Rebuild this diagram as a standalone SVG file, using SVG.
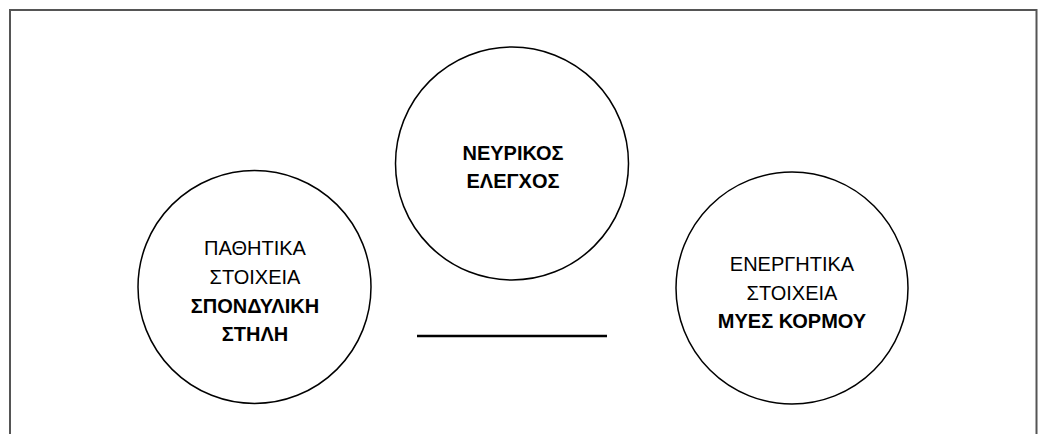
<svg xmlns="http://www.w3.org/2000/svg" width="1051" height="434" viewBox="0 0 1051 434">
<style>
.node circle{fill:#fff;stroke:#000;stroke-width:1.5}
text{font-family:"Liberation Sans",Arial,sans-serif;font-size:20px;fill:#000;text-anchor:middle}
.b{font-weight:bold}
</style>
<rect x="0" y="0" width="1051" height="434" fill="#fff"/>
<rect x="10" y="10" width="1026.5" height="460" fill="none" stroke="#555" stroke-width="2"/>
<g id="node-top" class="node">
<circle cx="512" cy="163.5" r="116.5"/>
<text class="b" x="513" y="160">ΝΕΥΡΙΚΟΣ</text>
<text class="b" x="513" y="188">ΕΛΕΓΧΟΣ</text>
</g>
<g id="node-left" class="node">
<circle cx="254.5" cy="287" r="116.5"/>
<text x="255" y="255">ΠΑΘΗΤΙΚΑ</text>
<text x="255" y="284">ΣΤΟΙΧΕΙΑ</text>
<text class="b" x="255" y="313">ΣΠΟΝΔΥΛΙΚΗ</text>
<text class="b" x="255" y="341">ΣΤΗΛΗ</text>
</g>
<g id="node-right" class="node">
<circle cx="792" cy="288" r="116"/>
<text x="792" y="271">ΕΝΕΡΓΗΤΙΚΑ</text>
<text x="792" y="300">ΣΤΟΙΧΕΙΑ</text>
<text class="b" x="792" y="328">ΜΥΕΣ ΚΟΡΜΟΥ</text>
</g>
<g id="connectors">
<line x1="417" y1="336" x2="607" y2="336" stroke="#000" stroke-width="2.5"/>
</g>
</svg>
